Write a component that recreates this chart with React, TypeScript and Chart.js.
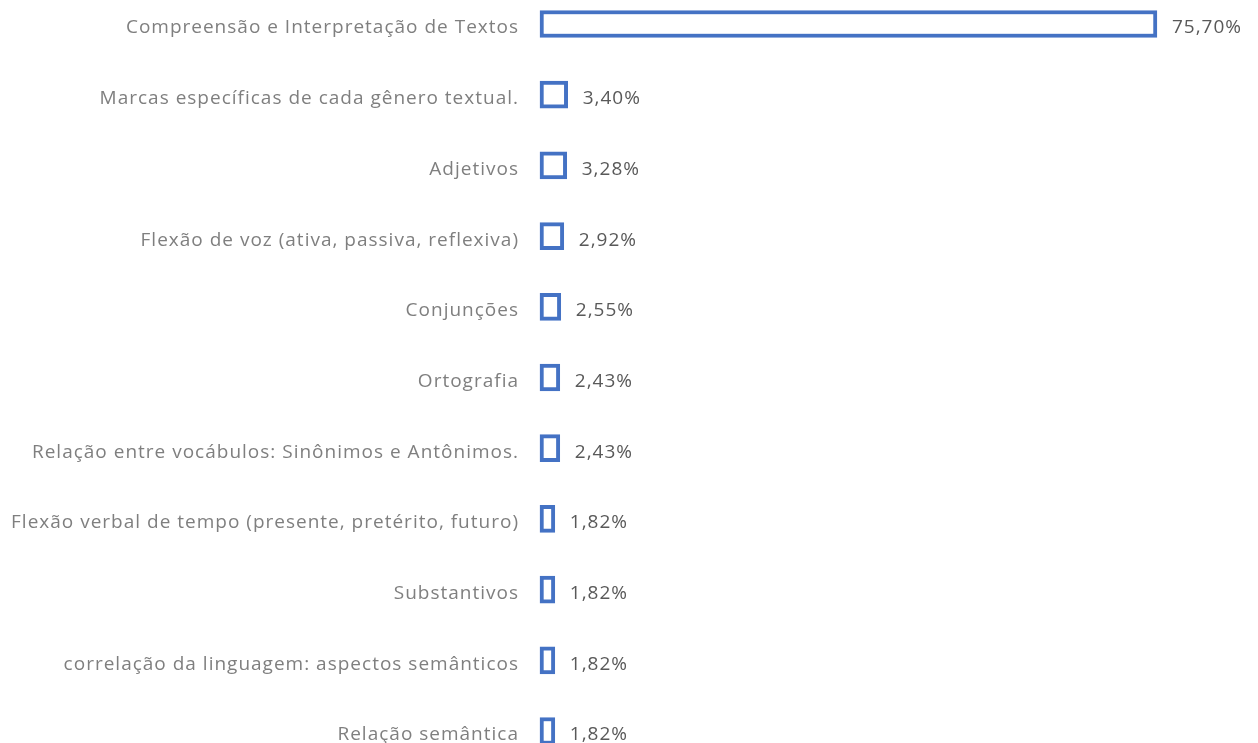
import React, { useEffect, useRef } from "react";
import { Chart, registerables } from "chart.js";

Chart.register(...registerables);

const categories = [
  "Compreensão e Interpretação de Textos",
  "Marcas específicas de cada gênero textual.",
  "Adjetivos",
  "Flexão de voz (ativa, passiva, reflexiva)",
  "Conjunções",
  "Ortografia",
  "Relação entre vocábulos: Sinônimos e Antônimos.",
  "Flexão verbal de tempo (presente, pretérito, futuro)",
  "Substantivos",
  "correlação da linguagem: aspectos semânticos",
  "Relação semântica",
];

const values = [75.7, 3.4, 3.28, 2.92, 2.55, 2.43, 2.43, 1.82, 1.82, 1.82, 1.82];

const FONT = "'Open Sans', sans-serif";

const spacing = {
  id: "spacing",
  beforeDraw(chart: any) {
    (chart.ctx as any).letterSpacing = "1px";
  },
};

const valueLabels = {
  id: "valueLabels",
  afterDatasetsDraw(chart: any) {
    const ctx = chart.ctx;
    const meta = chart.getDatasetMeta(0);
    ctx.save();
    (ctx as any).letterSpacing = "1px";
    ctx.font = `19px ${FONT}`;
    ctx.fillStyle = "#595959";
    ctx.textAlign = "left";
    ctx.textBaseline = "middle";
    meta.data.forEach((bar: any, i: number) => {
      const txt = values[i].toFixed(2).replace(".", ",") + "%";
      ctx.fillText(txt, bar.x + 15, bar.y + 4);
    });
    ctx.restore();
  },
};

export default function App() {
  const ref = useRef<HTMLCanvasElement | null>(null);
  useEffect(() => {
    document.body.style.margin = "0";
    const chart = new Chart(ref.current!, {
      type: "bar",
      data: {
        labels: categories,
        datasets: [
          {
            data: values,
            backgroundColor: "#ffffff",
            borderColor: "#4472C4",
            borderWidth: 4,
            borderSkipped: false,
            barThickness: 27,
            clip: false as any,
          },
        ],
      },
      options: {
        indexAxis: "y",
        animation: false,
        responsive: false,
        layout: { padding: { top: 24, bottom: 12, left: 0, right: 0 } },
        plugins: { legend: { display: false }, tooltip: { enabled: false } },
        scales: {
          x: {
            display: false,
            min: 0,
            max: 88.1,
          },
          y: {
            offset: false,
            grid: { display: false, drawTicks: false },
            border: { display: false },
            afterFit: (scale: any) => {
              scale.width = 540;
              scale.paddingTop = 0;
              scale.paddingBottom = 0;
            },
            ticks: {
              padding: 21,
              labelOffset: 4,
              color: "#7f7f7f",
              font: { family: FONT, size: 19 },
              autoSkip: false,
            },
          },
        },
      },
      plugins: [spacing, valueLabels],
    });
    return () => chart.destroy();
  }, []);
  return (
    <div style={{ width: 1258, height: 743 }}>
      <canvas ref={ref} width={1258} height={743} />
    </div>
  );
}
